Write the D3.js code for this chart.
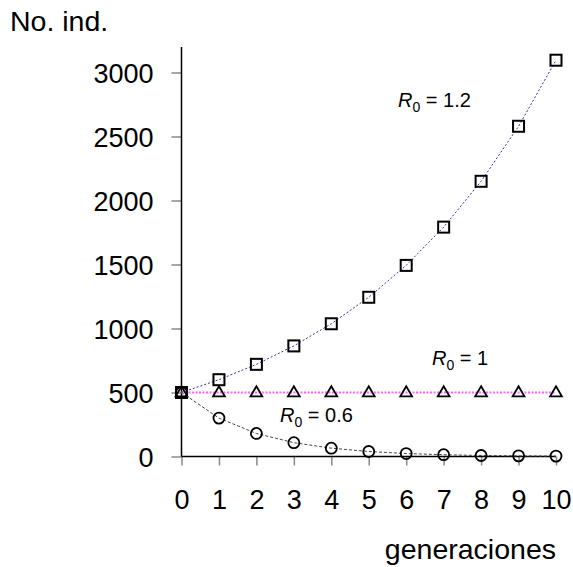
<!DOCTYPE html>
<html>
<head>
<meta charset="utf-8">
<script src="https://cdn.jsdelivr.net/npm/d3@7"></script>
<style>
  html, body { margin: 0; padding: 0; background: #fff; }
  svg { display: block; font-family: "Liberation Sans", Arial, sans-serif; }
</style>
</head>
<body>
<svg id="chart" width="573" height="567"></svg>
<script>
// Population size over generations for three net reproductive rates
const generations = [0, 1, 2, 3, 4, 5, 6, 7, 8, 9, 10];
const growR12 = [500, 600, 720, 864, 1037, 1244, 1493, 1792, 2150, 2580, 3096];
const stableR1 = [500, 500, 500, 500, 500, 500, 500, 500, 500, 500, 500];
const declineR06 = [500, 300, 180, 108, 65, 39, 23, 14, 8, 5, 3];
const yTicks = [0, 500, 1000, 1500, 2000, 2500, 3000];
const xTicks = [0, 1, 2, 3, 4, 5, 6, 7, 8, 9, 10];

const svg = d3.select("#chart");

const x = d3.scaleLinear().domain([0, 10]).range([181.5, 556]);
const y = d3.scaleLinear().domain([0, 3000]).range([456.5, 72.5]);

// axes
const gx = svg.append("g").attr("transform", `translate(0,${y(0)})`)
  .call(d3.axisBottom(x).tickValues(xTicks).tickSize(9).tickPadding(24).tickFormat(d3.format("d")));
gx.select(".domain").remove();
gx.selectAll(".tick line").attr("stroke", "#888").attr("stroke-width", 1.5);
gx.selectAll(".tick text").attr("font-size", 27).attr("fill", "#000")
  .attr("font-family", "Liberation Sans, Arial, sans-serif");

const gy = svg.append("g").attr("transform", `translate(${x(0)},0)`)
  .call(d3.axisLeft(y).tickValues(yTicks).tickSize(10).tickPadding(18).tickFormat(d3.format("d")));
gy.select(".domain").remove();
gy.selectAll(".tick line").attr("stroke", "#888").attr("stroke-width", 1.5);
gy.selectAll(".tick text").attr("font-size", 27).attr("fill", "#000")
  .attr("font-family", "Liberation Sans, Arial, sans-serif").attr("dy", "0.36em");

// axis lines
svg.append("line").attr("x1", x(0)).attr("x2", x(0)).attr("y1", 47).attr("y2", y(0))
  .attr("stroke", "#000").attr("stroke-width", 1.5);
svg.append("line").attr("x1", x(0)).attr("x2", x(10)).attr("y1", y(0)).attr("y2", y(0))
  .attr("stroke", "#000").attr("stroke-width", 1.5);

const line = d3.line().x((d, i) => x(generations[i])).y(d => y(d));

// connecting lines
svg.append("path").datum(declineR06).attr("d", line).attr("fill", "none")
  .attr("stroke", "#444").attr("stroke-width", 1).attr("stroke-dasharray", "3,2");
svg.append("path").datum(stableR1).attr("d", line).attr("fill", "none")
  .attr("stroke", "#ff66ff").attr("stroke-width", 2).attr("stroke-dasharray", "2,1.5");
svg.append("path").datum(growR12).attr("d", line).attr("fill", "none")
  .attr("stroke", "#3333aa").attr("stroke-width", 1).attr("stroke-dasharray", "2,2");

// markers
svg.append("g").selectAll("circle").data(declineR06).join("circle")
  .attr("cx", (d, i) => x(generations[i])).attr("cy", d => y(d)).attr("r", 5.5)
  .attr("fill", "none").attr("stroke", "#000").attr("stroke-width", 1.8);

const tri = d3.symbol().type(d3.symbolTriangle).size(60);
svg.append("g").selectAll("path").data(stableR1).join("path")
  .attr("d", tri)
  .attr("transform", (d, i) => `translate(${x(generations[i])},${y(d) + 0.5})`)
  .attr("fill", "none").attr("stroke", "#000").attr("stroke-width", 1.8);

svg.append("g").selectAll("rect").data(growR12).join("rect")
  .attr("x", (d, i) => x(generations[i]) - 5.5).attr("y", d => y(d) - 5.5)
  .attr("width", 11).attr("height", 11)
  .attr("fill", "none").attr("stroke", "#000").attr("stroke-width", 2);

// series labels
function r0Label(px, py, value) {
  const t = svg.append("text").attr("x", px).attr("y", py).attr("font-size", 20).attr("fill", "#000");
  t.append("tspan").attr("font-style", "italic").text("R");
  t.append("tspan").attr("font-size", 14).attr("dy", 5).text("0");
  t.append("tspan").attr("dy", -5).text(" = " + value);
}
r0Label(398, 107, "1.2");
r0Label(432, 365, "1");
r0Label(280, 422, "0.6");

// axis titles
svg.append("text").attr("x", 10).attr("y", 31).attr("font-size", 28.5).attr("fill", "#000").text("No. ind.");
svg.append("text").attr("x", 556).attr("y", 559).attr("text-anchor", "end")
  .attr("font-size", 28.5).attr("fill", "#000").text("generaciones");
</script>
</body>
</html>
